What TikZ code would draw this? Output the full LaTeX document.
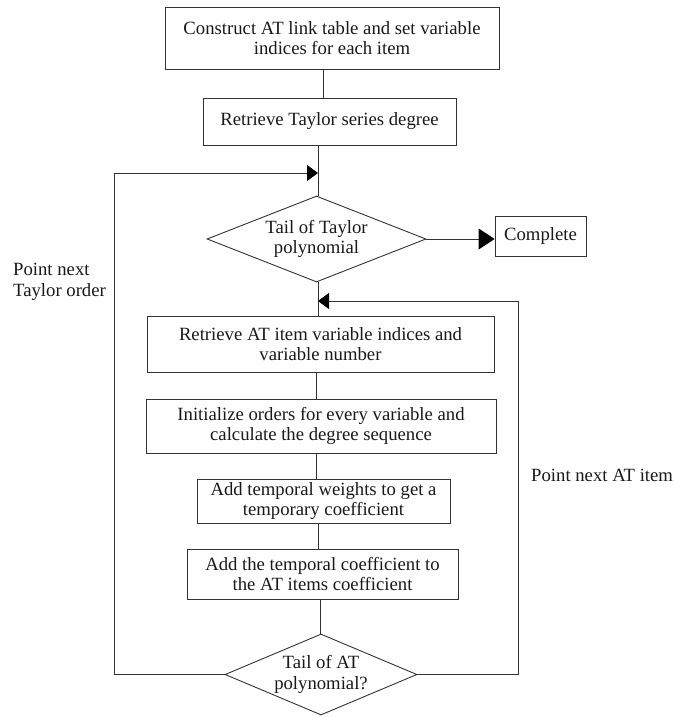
\documentclass[tikz,border=0pt]{standalone}
\usepackage{fontspec}
\setmainfont{Liberation Serif}
\usetikzlibrary{shapes.geometric,arrows.meta}
\begin{document}
\begin{tikzpicture}[x=1pt,y=-1pt,
  every node/.style={font=\fontsize{18.7}{20.5}\selectfont, text=black!90, inner sep=0pt},
  procbox/.style={draw=black!80, rectangle, align=center, line width=0.9pt},
  decbox/.style={draw=black!80, diamond, align=center, line width=0.9pt},
  link/.style={line width=0.9pt, draw=black!80},
  arr/.style={link, -{Triangle[length=11pt,width=16pt,color=black]}},
  bigarr/.style={link, -{Triangle[length=16pt,width=21pt,color=black]}},
]
\useasboundingbox (0,0) rectangle (673,717);

% process boxes
\node[procbox, minimum width=334pt, minimum height=62pt] (b1) at (332,38)
  {Construct AT link table and set variable\\indices for each item};
\node[procbox, minimum width=253pt, minimum height=47pt] (b2) at (329.5,121.5)
  {Retrieve Taylor series degree};
\node[decbox, minimum width=219pt, minimum height=86pt, aspect=2.55] (d1) at (316.5,239)
  {Tail of Taylor\\polynomial};
\node[procbox, minimum width=91pt, minimum height=40pt] (c) at (540.5,236)
  {Complete};
\node[procbox, minimum width=347pt, minimum height=56pt] (b3) at (320.5,344)
  {Retrieve AT item variable indices and\\variable number};
\node[procbox, minimum width=350pt, minimum height=54pt] (b4) at (321,426)
  {Initialize orders for every variable and\\calculate the degree sequence};
\node[procbox, minimum width=253pt, minimum height=44pt] (b5) at (323.5,501)
  {Add temporal weights to get a\\temporary coefficient};
\node[procbox, minimum width=271pt, minimum height=50pt] (b6) at (322.5,574)
  {Add the temporal coefficient to\\the AT items coefficient};
\node[decbox, minimum width=192pt, minimum height=81pt, aspect=2.37] (d2) at (321,674.5)
  {Tail of AT\\polynomial?};

% labels
\node[anchor=west, align=left] (lT) at (13,282) {Point next\\Taylor order};
\node[anchor=west] (lA) at (531,475) {Point next AT item};

% junction points
\coordinate (jT) at (318,173);
\coordinate (jA) at (318,301);
\coordinate (xL) at (114,0);
\coordinate (xR) at (518,0);

% main flow
\draw[link] (b1.south -| 323,0) -- (b2.north -| 323,0);
\draw[link] (b2.south -| jT) -- (d1.north -| jT);
\draw[bigarr] (d1.east) -- (d1.east -| c.west);
\draw[link] (d1.south -| jA) -- (b3.north -| jA);
\draw[link] (b3.south -| 316,0) -- (b4.north -| 316,0);
\draw[link] (b4.south -| 316,0) -- (b5.north -| 316,0);
\draw[link] (b5.south -| 318,0) -- (b6.north -| 318,0);
\draw[link] (b6.south -| 320,0) -- (d2.north -| 320,0);

% loops
\draw[arr] (d2.west) -- (d2.west -| xL) -- (jT -| xL) -- (jT);
\draw[arr] (d2.east) -- (d2.east -| xR) -- (jA -| xR) -- (jA);
\end{tikzpicture}
\end{document}
